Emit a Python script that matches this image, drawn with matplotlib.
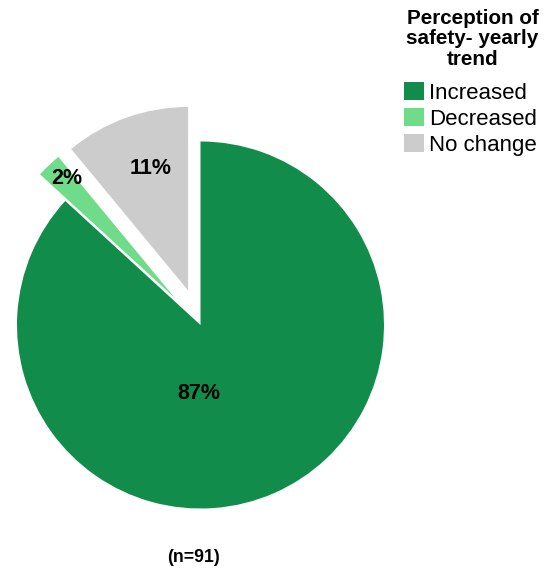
import numpy as np
import matplotlib
matplotlib.use('Agg')
import matplotlib.pyplot as plt

plt.rcParams['font.family'] = ['Liberation Sans', 'DejaVu Sans']

# data
categories = ['Increased', 'Decreased', 'No change']
counts = [79, 2, 10]          # n=91
colors = ['#118c4a', '#70dc8a', '#cccccc']
explode = [0.0, 0.2, 0.2]
legend_title = 'Perception of\nsafety- yearly\ntrend'
footnote = '(n=91)'

fig = plt.figure(figsize=(5.51, 5.73), dpi=100)
ax = fig.add_axes([0, 0, 1, 1])

wedges, texts, autotexts = ax.pie(counts, colors=colors, explode=explode,
                                  startangle=90, counterclock=False,
                                  autopct='%1.0f%%', pctdistance=0.5,
                                  textprops={'fontsize': 15.5, 'fontweight': 'bold',
                                             'color': 'black'})

# label positions (pie radius = 1)
label_pos = [(-0.008, -0.371), (-0.728, 0.801), (-0.270, 0.855)]
for t, p in zip(autotexts, label_pos):
    t.set_position(p)
    t.set_ha('center')
    t.set_va('center')

# pixel layout: pie centre at (200.5, 325) px, radius 183.5 px
cx, cy, r = 200.5, 325.0, 183.5
ax.set_aspect('auto')
ax.set_xlim(-cx / r, (551 - cx) / r)
ax.set_ylim((cy - 573) / r, cy / r)
ax.axis('off')

## legend title as its own text
fig.text(472.5 / 551, 1 - 8.5 / 573, legend_title, ha='center', va='top',
         fontsize=14.9, fontweight='bold', linespacing=1.13,
         multialignment='center')

leg = fig.legend(wedges, categories, loc='upper left',
                 bbox_to_anchor=(404 / 551, 1 - 82 / 573),
                 frameon=False, fontsize=16, borderpad=0,
                 handlelength=0.9, handleheight=0.85, handletextpad=0.22,
                 labelspacing=0.2, borderaxespad=0)

fig.text(193 / 551, 1 - 557 / 573, footnote, ha='center', va='center',
         fontsize=12.8, fontweight='bold')

fig.savefig('out.png', dpi=100)
